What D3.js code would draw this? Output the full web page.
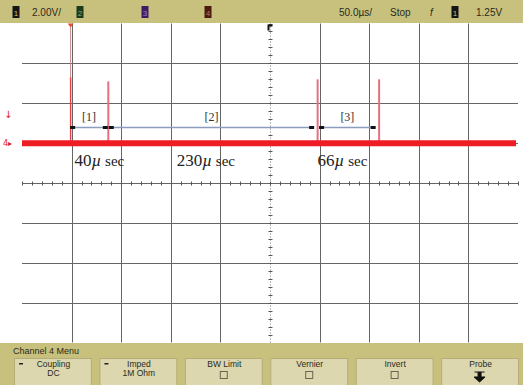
<!DOCTYPE html>
<html>
<head>
<meta charset="utf-8">
<script src="https://cdn.jsdelivr.net/npm/d3@7/dist/d3.min.js"></script>
<style>
  html, body { margin: 0; padding: 0; background: #ffffff; }
  svg { display: block; }
</style>
</head>
<body>
<svg id="scope" width="523" height="385"></svg>
<script>
// Screen geometry of the scope display (10 x 8 divisions)
const timePerDiv = 50;            // µs per division
const voltsPerDiv = 2;            // V per division
const horizDivs = d3.range(0, 11); // division boundaries
const vertDivs = d3.range(0, 9);

// Channel 4 trace: baseline level and pulse edges (µs relative to trigger)
const baselineVolts = 2.0;
const pulseTimes = [-201, -163, 48, 110];
const pulseTopVolts = [5.3, 5.1, 5.2, 5.2];

// Interval annotations between the pulses
const intervalTags = ["[1]", "[2]", "[3]"];
const intervalValues = ["40", "230", "66"];
const intervalSpans = [[-199, -166], [-160, 42], [52, 104]];
const intervalLabelTimes = [-197, -94, 48];

// Status bar and softkey texts
const headerLeft = ["1", "2.00V/", "2", "3", "4"];
const headerRight = ["50.0\u00b5s/", "Stop", "f", "1", "1.25V"];
const menuTitle = "Channel 4  Menu";
const softkeys = [
  { top: "Coupling", bottom: "DC", bullet: true, kind: "text" },
  { top: "Imped", bottom: "1M Ohm", bullet: true, kind: "text" },
  { top: "BW Limit", bottom: "", bullet: false, kind: "box" },
  { top: "Vernier", bottom: "", bullet: false, kind: "box" },
  { top: "Invert", bottom: "", bullet: false, kind: "box" },
  { top: "Probe", bottom: "", bullet: false, kind: "arrow" }
];

const svg = d3.select("#scope");
const W = 523, H = 385;
const gLeft = 22, gRight = 518, gTop = 23.5, gBottom = 342.5;

const x = d3.scaleLinear().domain([-5 * timePerDiv, 5 * timePerDiv]).range([gLeft, gRight]);
const y = d3.scaleLinear().domain([-4 * voltsPerDiv, 4 * voltsPerDiv]).range([gBottom, gTop]);

// Plot background
svg.append("rect").attr("x", 0).attr("y", 0).attr("width", W).attr("height", H).attr("fill", "#ffffff");

// Grid
const grid = svg.append("g").attr("stroke", "#555").attr("stroke-width", 1).attr("opacity", 0.9);
horizDivs.forEach(i => {
  if (i === 0 || i === 10 || i === 5) return;
  const xv = Math.round(x(-5 * timePerDiv + i * timePerDiv)) + 0.5;
  grid.append("line").attr("x1", xv).attr("x2", xv).attr("y1", gTop).attr("y2", gBottom);
});
vertDivs.forEach(i => {
  if (i === 0 || i === 8) return;
  const yv = Math.round(y(-4 * voltsPerDiv + i * voltsPerDiv)) + 0.5;
  grid.append("line").attr("x1", gLeft).attr("x2", gRight).attr("y1", yv).attr("y2", yv);
});

// Center axes with minor ticks
const cx = Math.round(x(0)) + 0.5, cy = Math.round(y(0)) + 0.5;
svg.append("line").attr("x1", cx).attr("x2", cx).attr("y1", gTop).attr("y2", gBottom)
  .attr("stroke", "#777").attr("stroke-width", 1).attr("stroke-dasharray", "1,2");
const xMinor = d3.range(-5 * timePerDiv, 5 * timePerDiv + 0.1, timePerDiv / 5);
svg.append("g").selectAll("line").data(xMinor).join("line")
  .attr("x1", d => Math.round(x(d)) + 0.5).attr("x2", d => Math.round(x(d)) + 0.5)
  .attr("y1", cy - 2).attr("y2", cy + 2).attr("stroke", "#555").attr("stroke-width", 1);
const yMinor = d3.range(-4 * voltsPerDiv, 4 * voltsPerDiv + 0.01, voltsPerDiv / 5);
svg.append("g").selectAll("line").data(yMinor).join("line")
  .attr("x1", cx - 2).attr("x2", cx + 2)
  .attr("y1", d => Math.round(y(d)) + 0.5).attr("y2", d => Math.round(y(d)) + 0.5)
  .attr("stroke", "#555").attr("stroke-width", 1);

// Trigger position line above the first pulse
svg.append("line").attr("x1", x(pulseTimes[0])).attr("x2", x(pulseTimes[0]))
  .attr("y1", gTop).attr("y2", y(pulseTopVolts[0]))
  .attr("stroke", "#c98888").attr("stroke-width", 1);

// Pulses (thin vertical spikes)
svg.append("g").selectAll("line").data(pulseTimes).join("line")
  .attr("x1", d => x(d)).attr("x2", d => x(d))
  .attr("y1", y(baselineVolts)).attr("y2", (d, i) => y(pulseTopVolts[i]))
  .attr("stroke", (d, i) => i === 0 ? "#e8404a" : "#e77080")
  .attr("stroke-width", (d, i) => i === 0 ? 1.4 : 2);

// Channel 4 baseline trace
svg.append("line")
  .attr("x1", gLeft).attr("x2", gRight - 2)
  .attr("y1", y(baselineVolts)).attr("y2", y(baselineVolts))
  .attr("stroke", "#ee1c24").attr("stroke-width", 6);

// Interval arrows
const arrowY = 127.5;
const arrows = svg.append("g");
intervalSpans.forEach(([a, b]) => {
  arrows.append("line").attr("x1", x(a)).attr("x2", x(b)).attr("y1", arrowY).attr("y2", arrowY)
    .attr("stroke", "#8c9cbc").attr("stroke-width", 1.5);
  [a, b].forEach(t => {
    arrows.append("rect").attr("x", x(t) - 2.5).attr("y", arrowY - 1.5).attr("width", 5).attr("height", 3)
      .attr("fill", "#111");
  });
});
svg.append("g").selectAll("text").data(intervalTags).join("text")
  .attr("x", (d, i) => x((intervalSpans[i][0] + intervalSpans[i][1]) / 2))
  .attr("y", 121)
  .attr("text-anchor", "middle")
  .attr("font-family", "Liberation Serif, serif").attr("font-size", 12).attr("fill", "#333")
  .text(d => d);

// Interval values in µs
const valueText = svg.append("g").selectAll("text").data(intervalValues).join("text")
  .attr("x", (d, i) => x(intervalLabelTimes[i]))
  .attr("y", 166)
  .attr("font-family", "Liberation Serif, serif").attr("font-size", 17).attr("fill", "#222");
valueText.append("tspan").text(d => d);
valueText.append("tspan").attr("font-style", "italic").text("\u00b5");
valueText.append("tspan").attr("font-size", 15).text(" sec");

// Channel markers on the left
svg.append("text").attr("x", 4).attr("y", 118).attr("font-family", "DejaVu Sans, sans-serif")
  .attr("font-size", 10).attr("fill", "#e02020").text("\u2193");
svg.append("text").attr("x", 3).attr("y", 146).attr("font-family", "DejaVu Sans, sans-serif")
  .attr("font-size", 8).attr("fill", "#e02020").text("4\u25b8");

// Status bar
const barFill = "#c8c17e";
svg.append("rect").attr("x", 0).attr("y", 0).attr("width", W).attr("height", 23).attr("fill", barFill);
const hdr = svg.append("g").attr("font-family", "Liberation Sans Narrow, Liberation Sans, sans-serif")
  .attr("font-size", 10).attr("fill", "#2a2a1a");
function chanBox(cxp, label, fill, fg) {
  hdr.append("rect").attr("x", cxp - 3.5).attr("y", 6).attr("width", 7).attr("height", 12).attr("fill", fill);
  hdr.append("text").attr("x", cxp).attr("y", 15.5).attr("text-anchor", "middle").attr("font-size", 8)
    .attr("fill", fg).text(label);
}
chanBox(16, headerLeft[0], "#141414", "#c8c17e");
hdr.append("text").attr("x", 32).attr("y", 15.5).text(headerLeft[1]);
chanBox(80, headerLeft[2], "#1d3a1a", "#8ab070");
chanBox(145, headerLeft[3], "#3c1c66", "#a080d0");
chanBox(208, headerLeft[4], "#4a1a10", "#c07050");
hdr.append("text").attr("x", 339).attr("y", 15.5).text(headerRight[0]);
hdr.append("text").attr("x", 390).attr("y", 15.5).text(headerRight[1]);
hdr.append("text").attr("x", 430).attr("y", 15.5).attr("font-style", "italic").text(headerRight[2]);
chanBox(455, headerRight[3], "#141414", "#c8c17e");
hdr.append("text").attr("x", 476).attr("y", 15.5).text(headerRight[4]);

// Trigger markers along the top edge
const p0 = x(pulseTimes[0]);
svg.append("path").attr("d", `M${p0 - 3},${gTop} L${p0 + 3},${gTop} L${p0},${gTop + 4} Z`)
  .attr("fill", "#e05030");
svg.append("path").attr("d", `M${cx - 3},${gTop + 1} h5 v2 h-3 v4 h-2 Z`).attr("fill", "#111");

// Softkey menu
const menuTop = 343;
svg.append("rect").attr("x", 0).attr("y", menuTop).attr("width", W).attr("height", H - menuTop).attr("fill", barFill);
svg.append("text").attr("x", 13).attr("y", 354)
  .attr("font-family", "Liberation Sans Narrow, Liberation Sans, sans-serif")
  .attr("font-size", 9).attr("fill", "#2a2a1a").text(menuTitle);
const keyX = d3.scaleBand().domain(d3.range(softkeys.length)).range([14, 518]).paddingInner(0.1);
const keys = svg.append("g").selectAll("g").data(softkeys).join("g")
  .attr("transform", (d, i) => `translate(${keyX(i)},358)`);
const kw = keyX.bandwidth();
keys.append("rect").attr("x", 0.5).attr("y", 0.5).attr("width", kw).attr("height", 30)
  .attr("fill", "#dcd7ae").attr("stroke", "#b4ad78").attr("stroke-width", 1);
keys.append("text").attr("x", kw / 2 + 1).attr("y", 9)
  .attr("text-anchor", "middle").attr("font-family", "Liberation Sans Narrow, Liberation Sans, sans-serif")
  .attr("font-size", 8.5).attr("fill", "#2a2a1a").text(d => d.top);
keys.append("text").attr("x", kw / 2 + 1).attr("y", 18)
  .attr("text-anchor", "middle").attr("font-family", "Liberation Sans Narrow, Liberation Sans, sans-serif")
  .attr("font-size", 8.5).attr("fill", "#2a2a1a").text(d => d.bottom);
keys.filter(d => d.bullet).append("rect").attr("x", 5).attr("y", 5).attr("width", 4).attr("height", 1.5).attr("fill", "#222");
keys.filter(d => d.kind === "box").append("rect").attr("x", kw / 2 - 3).attr("y", 13.5).attr("width", 7).attr("height", 7)
  .attr("fill", "none").attr("stroke", "#6a6650").attr("stroke-width", 1);
keys.filter(d => d.kind === "arrow").append("path")
  .attr("d", `M${kw / 2 - 5},14 h10 M${kw / 2 - 1.5},14 v5 h-4 l5.5,5 l5.5,-5 h-4 v-5`)
  .attr("fill", "#111").attr("stroke", "#111").attr("stroke-width", 1);
</script>
</body>
</html>
